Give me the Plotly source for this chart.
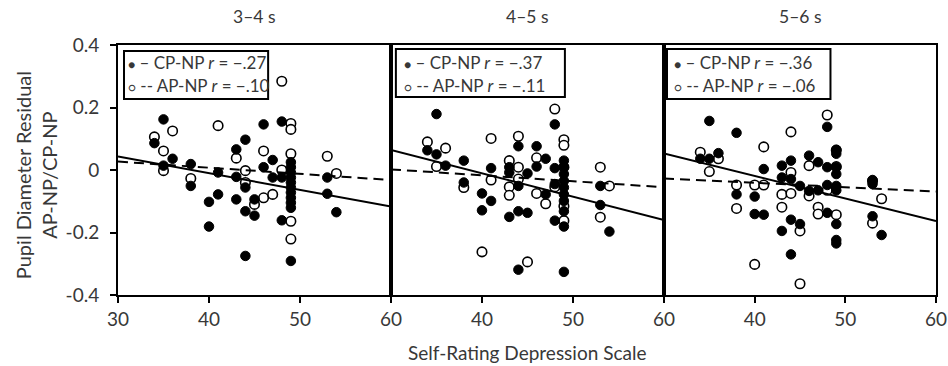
import plotly.graph_objects as go
from plotly.subplots import make_subplots

# ---------------- data ----------------
panel_titles = ["3\u20134 s", "4\u20135 s", "5\u20136 s"]
r_cp = ["\u2212.27", "\u2212.37", "\u2212.36"]
r_ap = ["\u2212.10", "\u2212.11", "\u2212.06"]

# Panel 1 (3-4 s)
cp1_x = [35, 34, 36, 35, 38, 38, 41, 41, 40, 40, 43, 44, 43, 43, 44, 44, 45, 45, 44, 46, 46, 47, 47,
         48, 48, 48, 49, 49, 49, 49, 49, 49, 49, 49, 49, 49, 49, 53, 53, 54]
cp1_y = [0.162, 0.086, 0.036, 0.014, 0.019, -0.051, -0.008, -0.078, -0.102, -0.181, 0.066, 0.097,
         -0.022, -0.094, -0.056, -0.132, -0.094, -0.146, -0.275, 0.146, 0.009, 0.032, -0.024,
         0.155, -0.024, -0.161, 0.025, 0.009, -0.008, -0.024, -0.040, -0.056, -0.072, -0.089,
         -0.105, -0.121, -0.291, -0.024, -0.076, -0.135]
ap1_x = [34, 35, 35, 36, 38, 41, 43, 44, 45, 46, 46, 47, 48, 48, 49, 49, 49, 49, 49, 53, 54, 44]
ap1_y = [0.106, -0.002, 0.061, 0.125, -0.027, 0.142, 0.038, -0.002, -0.110, 0.061, -0.089, -0.078,
         0.000, 0.284, 0.149, 0.130, 0.052, -0.164, -0.221, 0.044, -0.011, -0.040]

# Panel 2 (4-5 s)
cp2_x = [35, 34, 35, 36, 38, 38, 40, 40, 41, 41, 43, 43, 43, 44, 44, 44, 44, 45, 45, 46, 46, 47, 47,
         48, 48, 48, 48, 49, 49, 49, 49, 49, 49, 49, 49, 49, 49, 53, 53, 54]
cp2_y = [0.179, 0.063, 0.050, 0.014, 0.030, -0.040, -0.075, -0.129, 0.006, -0.099, 0.009, -0.008,
         -0.150, 0.076, -0.051, -0.132, -0.319, -0.011, -0.137, 0.076, 0.011, 0.036, -0.078,
         0.146, 0.006, -0.045, -0.162, 0.030, 0.009, -0.013, -0.035, -0.056, -0.078, -0.099,
         -0.132, -0.181, -0.326, -0.051, -0.112, -0.197]
ap2_x = [34, 35, 36, 38, 40, 41, 41, 43, 43, 43, 44, 44, 44, 45, 46, 46, 47, 48, 48, 49, 49, 49, 49,
         49, 53, 53, 54]
ap2_y = [0.090, 0.011, 0.070, -0.056, -0.262, 0.101, -0.032, 0.030, -0.054, -0.081, 0.108, 0.009,
         -0.029, -0.294, 0.039, -0.075, -0.108, 0.195, -0.054, 0.097, 0.079, 0.009, -0.116,
         -0.162, 0.009, -0.151, -0.051]

# Panel 3 (5-6 s)
cp3_x = [35, 34, 35, 36, 38, 38, 40, 40, 41, 41, 43, 43, 43, 44, 44, 44, 44, 45, 45, 46, 46, 47, 47,
         48, 48, 48, 48, 49, 49, 49, 49, 49, 49, 49, 49, 49, 53, 53, 53, 54]
cp3_y = [0.157, 0.036, 0.036, 0.054, 0.119, -0.078, -0.085, -0.141, 0.003, -0.143, 0.014, -0.024,
         -0.195, 0.030, -0.029, -0.159, -0.270, -0.051, -0.173, 0.046, -0.067, 0.025, -0.065,
         0.138, 0.009, -0.048, -0.137, 0.065, 0.052, 0.009, -0.013, -0.051, -0.065, -0.173,
         -0.224, -0.235, -0.032, -0.045, -0.148, -0.208]
ap3_x = [34, 35, 36, 38, 38, 40, 40, 41, 41, 43, 43, 44, 44, 44, 45, 45, 46, 46, 47, 47, 48, 48, 49,
         49, 49, 53, 53, 54]
ap3_y = [0.057, -0.005, 0.036, -0.048, -0.123, -0.302, -0.048, 0.074, -0.048, -0.078, -0.119, 0.122,
         -0.008, -0.075, -0.195, -0.364, 0.014, -0.083, -0.119, -0.141, 0.176, -0.065, 0.011,
         -0.143, 0.063, -0.035, -0.170, -0.092]

# regression line end values (at SDS 30 and 60)
fit_x = [30, 60]
fit_cp = [[0.043, -0.117], [0.064, -0.160], [0.053, -0.163]]
fit_ap = [[0.027, -0.032], [0.002, -0.055], [-0.027, -0.069]]

x_ticks_first = [30, 40, 50, 60]
x_ticks_other = [40, 50, 60]
y_ticks = [0.4, 0.2, 0, -0.2, -0.4]
y_tick_text = ["0.4", "0.2", "0", "-0.2", "-0.4"]

cp_x = [cp1_x, cp2_x, cp3_x]
cp_y = [cp1_y, cp2_y, cp3_y]
ap_x = [ap1_x, ap2_x, ap3_x]
ap_y = [ap1_y, ap2_y, ap3_y]

# ---------------- figure ----------------
FONT = "Lato, 'Open Sans', sans-serif"
TXT = "#383838"

fig = make_subplots(rows=1, cols=3, horizontal_spacing=0)

domains = [[0.0, 0.3337], [0.3337, 0.6675], [0.6675, 1.0]]

for i in range(3):
    c = i + 1
    # open circles (AP-NP)
    fig.add_trace(go.Scatter(x=ap_x[i], y=ap_y[i], mode="markers",
                             marker=dict(size=9.5, color="white", line=dict(color="black", width=1.6)),
                             showlegend=False, hoverinfo="skip"), row=1, col=c)
    # filled circles (CP-NP)
    fig.add_trace(go.Scatter(x=cp_x[i], y=cp_y[i], mode="markers",
                             marker=dict(size=9.5, color="black", line=dict(color="black", width=1)),
                             showlegend=False, hoverinfo="skip"), row=1, col=c)
    # regression lines
    fig.add_trace(go.Scatter(x=fit_x, y=fit_ap[i], mode="lines",
                             line=dict(color="black", width=2, dash="10px,6px"),
                             showlegend=False, hoverinfo="skip"), row=1, col=c)
    fig.add_trace(go.Scatter(x=fit_x, y=fit_cp[i], mode="lines",
                             line=dict(color="black", width=2),
                             showlegend=False, hoverinfo="skip"), row=1, col=c)

axis_common = dict(showline=True, linecolor="black", linewidth=2, mirror=True,
                   showgrid=False, zeroline=False, ticks="outside", ticklen=6,
                   tickwidth=1.5, tickcolor="black", automargin=False,
                   tickfont=dict(family=FONT, size=19, color=TXT))

for i in range(3):
    c = i + 1
    xa = "xaxis" if c == 1 else f"xaxis{c}"
    ya = "yaxis" if c == 1 else f"yaxis{c}"
    fig.layout[xa].update(axis_common, range=[30, 60], domain=domains[i],
                          tickvals=x_ticks_first if c == 1 else x_ticks_other)
    if c == 1:
        fig.layout[ya].update(axis_common, range=[-0.4, 0.4], tickvals=y_ticks,
                              ticktext=y_tick_text, domain=[0, 1], ticklabelstandoff=7)
    else:
        fig.layout[ya].update(axis_common, range=[-0.4, 0.4], tickvals=y_ticks,
                              showticklabels=False, ticks="", domain=[0, 1])

# legend boxes and texts
leg_box = [[0.022, 0.550, 0.784, 0.976],
           [0.018, 0.637, 0.792, 0.984],
           [0.011, 0.612, 0.784, 0.984]]
leg_text_x = [0.030, 0.040, 0.028]
for i in range(3):
    c = i + 1
    xr = "x domain" if c == 1 else f"x{c} domain"
    yr = "y domain" if c == 1 else f"y{c} domain"
    x0, x1, y0, y1 = leg_box[i]
    fig.add_shape(type="rect", xref=xr, yref=yr, x0=x0, x1=x1, y0=y0, y1=y1,
                  line=dict(color="black", width=2), fillcolor="rgba(0,0,0,0)")
    fig.add_annotation(xref=xr, yref=yr, x=leg_text_x[i], y=0.928, xanchor="left",
                       yanchor="middle", showarrow=False,
                       text=("<span style='font-size:12px'>\u25cf</span> \u2013 CP-NP <i>r</i> = "
                             + r_cp[i]),
                       font=dict(family=FONT, size=17, color=TXT))
    fig.add_annotation(xref=xr, yref=yr, x=leg_text_x[i], y=0.840, xanchor="left",
                       yanchor="middle", showarrow=False,
                       text=("<span style='font-size:12px'>\u25cb</span> -- AP-NP <i>r</i> = "
                             + r_ap[i]),
                       font=dict(family=FONT, size=17, color=TXT))
    # panel title
    fig.add_annotation(xref=xr, yref="paper", x=0.5, y=1.112, xanchor="center",
                       yanchor="middle", showarrow=False, text=panel_titles[i],
                       font=dict(family=FONT, size=17.5, color=TXT))

# axis titles
fig.add_annotation(xref="paper", yref="paper", x=0.5, y=-0.23, showarrow=False,
                   text="Self-Rating Depression Scale", xanchor="center", yanchor="middle",
                   font=dict(family=FONT, size=19, color=TXT))
fig.add_annotation(xref="paper", yref="paper", x=-0.1, y=0.48, showarrow=False,
                   text="Pupil Diameter Residual<br>AP-NP/CP-NP", textangle=-90,
                   xanchor="center", yanchor="middle",
                   font=dict(family=FONT, size=20, color=TXT))

fig.update_layout(width=948, height=366, plot_bgcolor="white", paper_bgcolor="white",
                  margin=dict(l=118, r=12, t=45, b=71), showlegend=False)

# remove the default 8px page margin so the figure sits exactly in the window
fig.write_html("out.html", config={"displayModeBar": False},
               post_script="document.body.style.margin='0';document.body.style.overflow='hidden';")
